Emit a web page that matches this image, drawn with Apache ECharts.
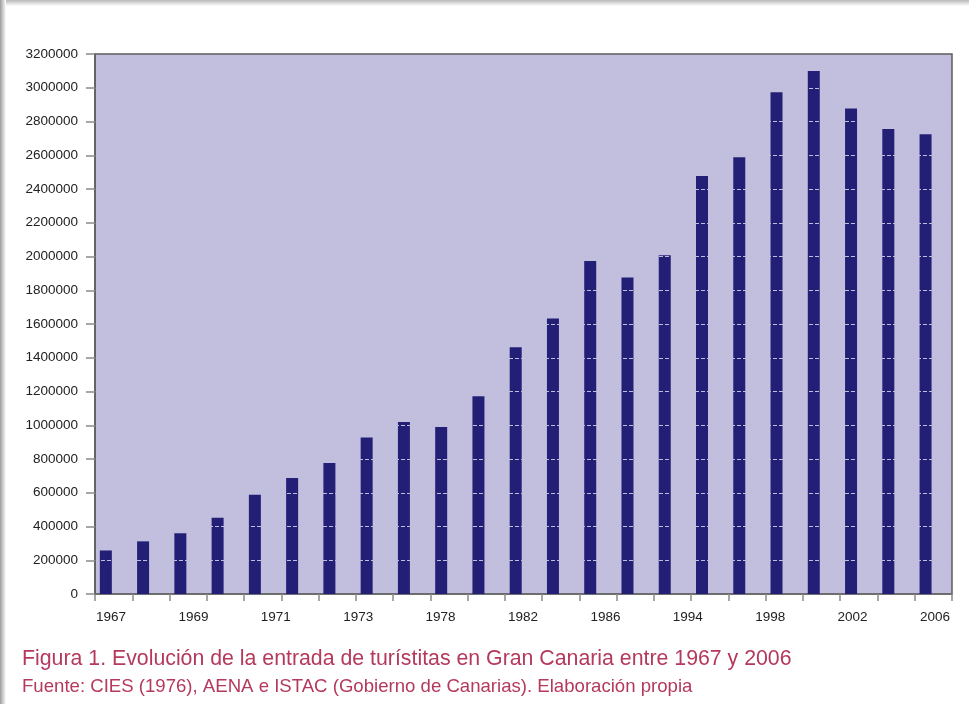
<!DOCTYPE html>
<html>
<head>
<meta charset="utf-8">
<script src="https://cdn.jsdelivr.net/npm/echarts@6/dist/echarts.min.js"></script>
<style>
html,body{margin:0;padding:0;background:#fff;}
#c{width:969px;height:704px;}
</style>
</head>
<body>
<div id="c"></div>
<script>
// Data
const barCategories = ['b1','b2','b3','b4','b5','b6','b7','b8','b9','b10','b11','b12','b13','b14','b15','b16','b17','b18','b19','b20','b21','b22','b23'];
const tourists = [258000, 312000, 360000, 452000, 588000, 688000, 776000, 928000, 1020000, 990000, 1172000, 1462000, 1632000, 1974000, 1876000, 2008000, 2477000, 2588000, 2974000, 3099000, 2877000, 2755000, 2725000];
const yearLabels = ['1967','1969','1971','1973','1978','1982','1986','1994','1998','2002','2006'];
const captionTitle = 'Figura 1. Evolución de la entrada de turístitas en Gran Canaria entre 1967 y 2006';
const captionSource = 'Fuente: CIES (1976), AENA e ISTAC (Gobierno de Canarias). Elaboración propia';

const chart = echarts.init(document.getElementById('c'), null, {renderer:'canvas'});
const font = 'Liberation Sans, Arial, sans-serif';
chart.setOption({
  animation: false,
  grid: [
    {left: 95, right: 17, top: 54, bottom: 110, show: true, backgroundColor: '#c1bfdd', borderColor: '#5c5c5c', borderWidth: 1.5},
    {left: 111, right: 34, top: 54, bottom: 110, show: false}
  ],
  xAxis: [
    {
      type: 'category', gridIndex: 0, data: barCategories,
      axisLine: {lineStyle: {color: '#6a6a6a', width: 1.5}},
      axisTick: {show: true, length: 7, lineStyle: {color: '#8a8a8a', width: 1.5}},
      axisLabel: {show: false}
    },
    {
      type: 'category', gridIndex: 1, data: yearLabels, boundaryGap: false,
      axisLine: {show: false}, axisTick: {show: false},
      axisLabel: {interval: 0, margin: 16, fontSize: 13.5, color: '#222', fontFamily: font}
    }
  ],
  yAxis: [
    {
      type: 'value', gridIndex: 0, min: 0, max: 3200000, interval: 200000, z: 5,
      axisLine: {show: true, lineStyle: {color: '#5c5c5c', width: 1.5}},
      axisTick: {show: true, length: 9, lineStyle: {color: '#8a8a8a', width: 1.5}},
      axisLabel: {margin: 17, fontSize: 13.5, color: '#222', fontFamily: font, formatter: v => String(v)},
      splitLine: {show: true, showMinLine: false, showMaxLine: false, lineStyle: {color: '#bfbddc', width: 1.2, type: [4, 2]}}
    },
    {type: 'value', gridIndex: 1, show: false}
  ],
  series: [
    {type: 'bar', xAxisIndex: 0, yAxisIndex: 0, data: tourists, barWidth: 12, barGap: '30%', itemStyle: {color: '#231f77'}},
    {type: 'bar', xAxisIndex: 0, yAxisIndex: 0, data: [], barWidth: 12}
  ],
  graphic: [
    {type: 'rect', left: 0, top: 0, shape: {width: 969, height: 6}, silent: true,
      style: {fill: new echarts.graphic.LinearGradient(0,0,0,1,[{offset:0,color:'#b8b8b8'},{offset:1,color:'#ffffff'}])}},
    {type: 'rect', left: 0, top: 0, shape: {width: 6, height: 704}, silent: true,
      style: {fill: new echarts.graphic.LinearGradient(0,0,1,0,[{offset:0,color:'#9c9c9c'},{offset:1,color:'#ffffff'}])}},
    {type: 'text', left: 22, top: 649, style: {text: captionTitle, fill: '#b5395c', font: '21.3px ' + font}},
    {type: 'text', left: 22, top: 677, style: {text: captionSource, fill: '#b5395c', font: '18.6px ' + font}}
  ]
});
</script>
</body>
</html>
